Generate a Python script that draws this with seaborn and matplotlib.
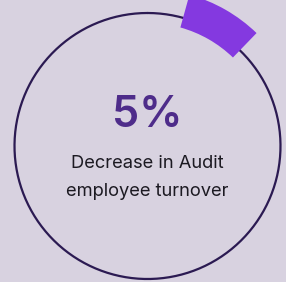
import numpy as np
import matplotlib
matplotlib.use("Agg")
import matplotlib.pyplot as plt
import seaborn as sns

# data
value_label = "5%"
caption_lines = ["Decrease in Audit", "employee turnover"]
arc_start_deg = [15.5]
arc_extent_deg = [28.5]

sns.set_theme(style="white")
plt.rcParams['font.family'] = ['Inter', 'DejaVu Sans']

BG = "#d8d2e0"
fig = plt.figure(figsize=(2.86, 2.82), dpi=100, facecolor=BG)

W, H = 286, 282
cx, cy = 147.5, 146
rmax = 160
ax = fig.add_axes([(cx - rmax) / W, (H - cy - rmax) / H, 2 * rmax / W, 2 * rmax / H],
                  projection='polar')
ax.set_facecolor((0, 0, 0, 0))
ax.set_theta_zero_location('N')
ax.set_theta_direction(-1)
ax.set_ylim(0, rmax)
ax.grid(False)
ax.set_xticks([]); ax.set_yticks([])
ax.spines['polar'].set_visible(False)

theta = np.linspace(0, 2 * np.pi, 400)
ax.plot(theta, np.full_like(theta, 133), color="#2b1a52", lw=1.6)

starts = np.deg2rad(arc_start_deg)
extents = np.deg2rad(arc_extent_deg)
ax.bar(starts + extents / 2, [34], width=extents, bottom=123, color="#8439e0",
       edgecolor='none', zorder=3)

fig.text(cx / W, 1 - 116 / H, value_label, ha='center', va='center',
         fontsize=31, fontweight='semibold', color="#4e2c8a")
fig.text(cx / W, 1 - 163 / H, caption_lines[0], ha='center', va='center',
         fontsize=13.2, color="#1c1a22")
fig.text(cx / W, 1 - 191 / H, caption_lines[1], ha='center', va='center',
         fontsize=13.2, color="#1c1a22")

fig.savefig("out.png", dpi=100, facecolor=BG)
